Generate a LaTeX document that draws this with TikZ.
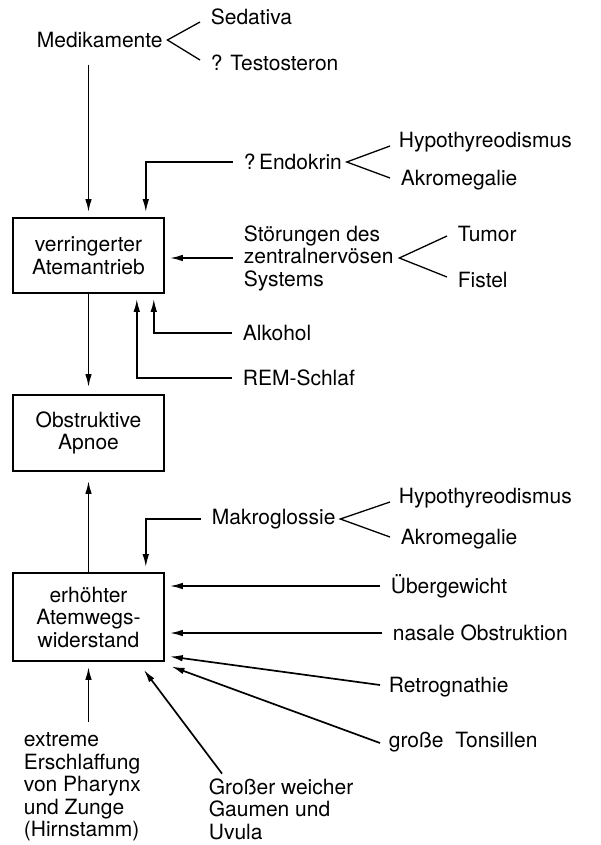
\documentclass[tikz,border=0pt]{standalone}
\usepackage{fontspec}
\setmainfont{TeX Gyre Heros}
\usepackage{tikz}
\usetikzlibrary{arrows.meta}

\begin{document}
\begin{tikzpicture}[>={Latex[length=13pt,width=6.5pt]},x=1pt,y=-1pt,line width=1.7pt]
\tikzstyle{every node}=[font=\fontsize{21}{22.5}\selectfont,align=left,inner sep=2pt]
\tikzstyle{txt}=[anchor=west]
\tikzstyle{kasten}=[draw,align=center,minimum width=151pt,line width=1.6pt]
\tikzstyle{pfeil}=[->,shorten >=5pt]
\tikzstyle{gabel}=[line width=1.3pt]
\useasboundingbox (0,0) rectangle (601,845);
% Kaesten
\node[kasten,minimum height=75pt] (vat) at (88.5,255.5) {verringerter\\Atemantrieb};
\node[kasten,minimum height=76pt] (oa) at (88.5,433) {Obstruktive\\Apnoe};
\node[kasten,minimum height=88pt] (eaw) at (88.5,617) {erh\"ohter\\Atemwegs-\\widerstand};
% Ursachen oben
\node[txt] (medi) at (34,40) {Medikamente};
\node[txt] (sed) at (208,17) {Sedativa};
\node[txt] (test) at (208,63) {? Testosteron};
\node[txt] (endo) at (241,162) {?\,Endokrin};
\node[txt] (hypoa) at (396,142) {Hypothyreodismus};
\node[txt] (akroa) at (398,180) {Akromegalie};
\node[txt] (zns) at (241,258) {St\"orungen des\\zentralnerv\"osen\\Systems};
\node[txt] (tumor) at (455,234) {Tumor};
\node[txt] (fistel) at (455,280) {Fistel};
\node[txt] (alk) at (240,333) {Alkohol};
\node[txt] (rem) at (240,378) {REM-Schlaf};
% Ursachen unten
\node[txt] (makro) at (209,519) {Makroglossie};
\node[txt] (hypob) at (396,498) {Hypothyreodismus};
\node[txt] (akrob) at (398,539) {Akromegalie};
\node[txt] (ueber) at (388,586) {\"Ubergewicht};
\node[txt] (nasal) at (390,633) {nasale Obstruktion};
\node[txt] (retro) at (386,687) {Retrognathie};
\node[txt] (tonsil) at (386,742) {gro\ss e\ \ Tonsillen};
\node[txt] (ext) at (21,787) {extreme\\Erschlaffung\\von Pharynx\\und Zunge\\(Hirnstamm)};
\node[txt] (gaumen) at (206,809) {Gro\ss er weicher\\Gaumen und\\Uvula};
% Gabeln
\draw[gabel] ([shift={(-8,5)}]sed.west) -- ([xshift=2pt]medi.east) -- ([shift={(-8,-3)}]test.west);
\draw[gabel] ([shift={(-6,4)}]hypoa.west) -- ([xshift=2pt]endo.east) -- ([shift={(-8,-2)}]akroa.west);
\draw[gabel] ([shift={(-8,2)}]tumor.west) -- ([xshift=3pt]zns.east) -- ([shift={(-8,-3)}]fistel.west);
\draw[gabel] ([shift={(-6,4)}]hypob.west) -- ([xshift=2pt]makro.east) -- ([shift={(-8,-2)}]akrob.west);
% Pfeile zum Atemantrieb
\draw[pfeil] ([yshift=-14pt]medi.south -| vat.north) -- (vat.north);
\draw[pfeil] ([xshift=-8pt]endo.west) -| ([xshift=-19pt]vat.north east);
\draw[pfeil] ([xshift=-8pt]zns.west) -- (zns.west -| vat.east);
\draw[pfeil] ([xshift=-8pt]alk.west) -| ([xshift=-11pt]vat.south east);
\draw[pfeil] ([xshift=-8pt]rem.west) -| ([xshift=-28pt]vat.south east);
\draw[->,shorten >=7pt] (vat) -- (oa);
\draw[->,shorten >=9pt] (eaw) -- (oa);
% Pfeile zum Atemwegswiderstand
\draw[pfeil] ([xshift=-8pt]makro.west) -| ([xshift=-19pt]eaw.north east);
\draw[pfeil] ([xshift=-8pt]ueber.west) -- (ueber.west -| eaw.east);
\draw[pfeil] ([xshift=-8pt]nasal.west) -- (nasal.west -| eaw.east);
\draw[pfeil] ([xshift=-6pt,yshift=2pt]retro.west) -- ([yshift=6pt]eaw.south east);
\draw[pfeil] ([xshift=-6pt,yshift=-1pt]tonsil.west) -- ([xshift=2pt,yshift=-3pt]eaw.south east);
\draw[pfeil] ([yshift=8pt]ext.north -| eaw.south) -- (eaw.south);
\draw[pfeil] ([xshift=16pt,yshift=2pt]gaumen.north west) -- ([xshift=-24pt,yshift=-4pt]eaw.south east);
\end{tikzpicture}
\end{document}
